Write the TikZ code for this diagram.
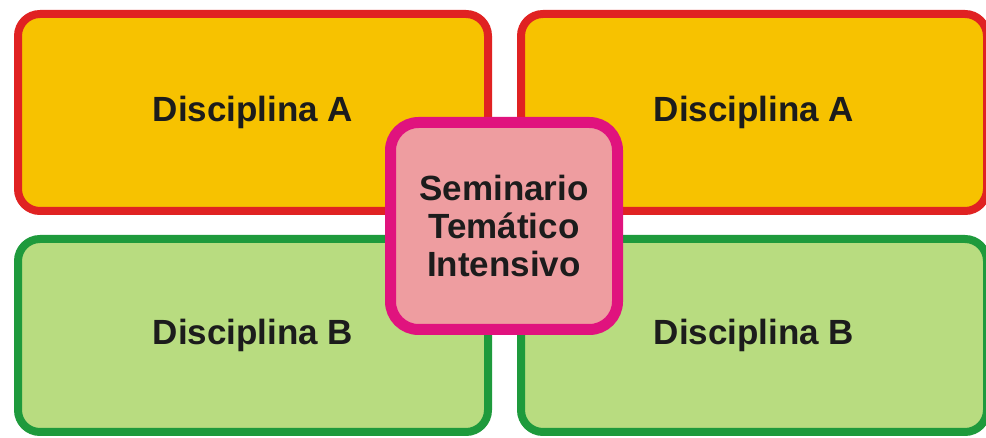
\documentclass[tikz,border=0pt]{standalone}
\usepackage{fontspec}
\setmainfont{Liberation Sans}
\definecolor{yfill}{HTML}{F7C200}
\definecolor{rline}{HTML}{E02222}
\definecolor{gfill}{HTML}{B8DC80}
\definecolor{gline}{HTML}{1E9A3C}
\definecolor{pfill}{HTML}{EE9DA0}
\definecolor{mline}{HTML}{E0137E}
\definecolor{txt}{HTML}{1C1C1C}
\begin{document}
\begin{tikzpicture}[x=1pt,y=-1pt,
  box/.style={draw,rounded corners=22pt,inner sep=0pt,line width=8pt,
    font=\fontsize{35}{38}\selectfont\bfseries,text=txt,align=center},
  boxa/.style={box,fill=yfill,draw=rline},
  boxb/.style={box,fill=gfill,draw=gline},
  boxc/.style={box,fill=pfill,draw=mline,line width=11pt,rounded corners=28pt}]
\fill[white] (0,0) rectangle (986,438);
\useasboundingbox (0,0) rectangle (986,438);
\begin{scope}
\clip (0,0) rectangle (986,438);
\node[boxa,minimum width=470pt,minimum height=197pt] (a1) at (253,112.5) {Disciplina A};
\node[boxa,minimum width=466pt,minimum height=197pt] (a2) at (754,112.5) {Disciplina A};
\node[boxb,minimum width=470pt,minimum height=193pt] (b1) at (253,335.5) {Disciplina B};
\node[boxb,minimum width=466pt,minimum height=193pt] (b2) at (754,335.5) {Disciplina B};
\node[boxc,minimum width=227pt,minimum height=207pt] (c) at (504,226) {Seminario\\Temático\\Intensivo};
\end{scope}
\end{tikzpicture}
\end{document}
